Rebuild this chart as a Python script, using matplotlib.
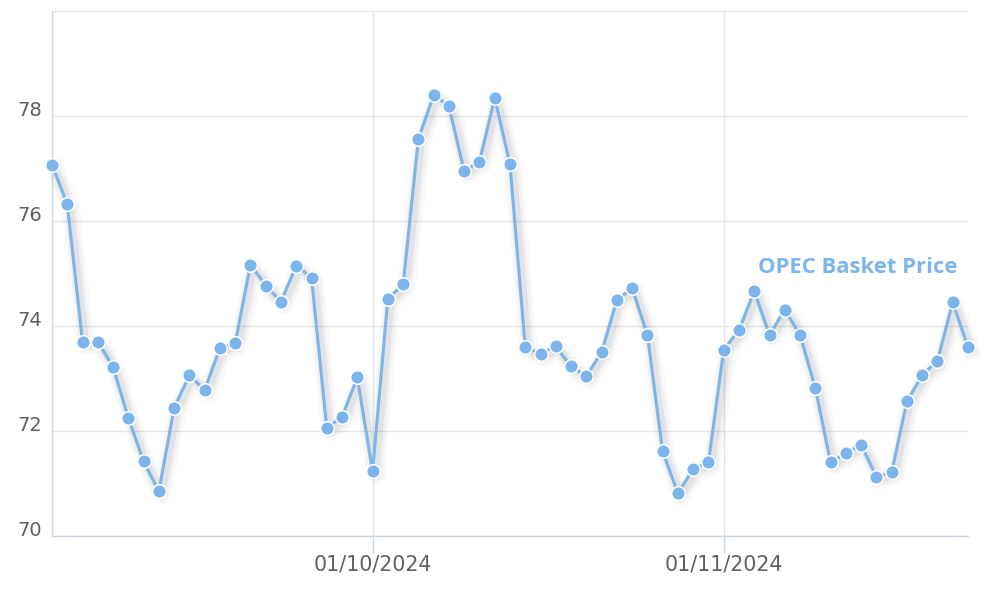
import matplotlib
matplotlib.use("Agg")
import matplotlib.pyplot as plt
import matplotlib.patheffects as pe
import numpy as np
import pandas as pd

# ---- data ----
dates = pd.bdate_range("2024-09-02", "2024-11-25")
prices = [77.07, 76.32, 73.70, 73.70, 73.22, 72.25, 71.42, 70.85, 72.44, 73.06,
          72.78, 73.58, 73.67, 75.17, 74.77, 74.46, 75.15, 74.92, 72.05, 72.27,
          73.02, 71.23, 74.52, 74.79, 77.56, 78.40, 78.18, 76.95, 77.13, 78.34,
          77.08, 73.59, 73.47, 73.61, 73.23, 73.04, 73.50, 74.49, 74.72, 73.83,
          71.61, 70.81, 71.28, 71.40, 73.55, 73.92, 74.66, 73.83, 74.31, 73.83,
          72.82, 71.40, 71.58, 71.74, 71.13, 71.21, 72.57, 73.06, 73.34, 74.45,
          73.60]
series_name = "OPEC Basket Price"
tick_dates = ["2024-10-01", "2024-11-01"]
y_ticks = [70, 72, 74, 76, 78, 80]
y_labels = ["70", "72", "74", "76", "78", ""]

# ---- style ----
color = "#7cb5ec"
grid_color = "#e6e6e6"
axis_color = "#ccd6eb"
label_color = "#606060"

fig = plt.figure(figsize=(10, 6.06), dpi=100)
ax = fig.add_axes([0.052, 0.1155, 0.916, 0.8665])

x = np.arange(len(prices))

shadow = [
    pe.SimpleLineShadow(offset=(2.5, -2.5), shadow_color="black", alpha=0.025, linewidth=13),
    pe.SimpleLineShadow(offset=(2.2, -2.2), shadow_color="black", alpha=0.035, linewidth=9),
    pe.SimpleLineShadow(offset=(2.0, -2.0), shadow_color="black", alpha=0.05, linewidth=5.5),
    pe.Normal(),
]
ax.plot(x, prices, color=color, linewidth=2.2, zorder=3, path_effects=shadow,
        solid_joinstyle="round", clip_on=False)
ax.plot(x, prices, linestyle="none", marker="o", markersize=9.8,
        markerfacecolor=color, markeredgecolor="white", markeredgewidth=1.1,
        zorder=4, clip_on=False)

ax.set_xlim(0, len(prices) - 1)
ax.set_ylim(70, 80)

# x ticks at given dates
tick_idx = [int(np.where(dates == pd.Timestamp(d))[0][0]) for d in tick_dates]
ax.set_xticks(tick_idx)
ax.set_xticklabels([pd.Timestamp(d).strftime("%d/%m/%Y") for d in tick_dates])
ax.set_yticks(y_ticks)
ax.set_yticklabels(y_labels)
for lab in ax.get_yticklabels():
    lab.set_verticalalignment("baseline")

ax.tick_params(axis="x", length=12.2, width=1, color=axis_color, labelsize=14.8,
               labelcolor=label_color, pad=1.0)
ax.tick_params(axis="y", length=0, labelsize=14, labelcolor=label_color, pad=7.2)

ax.grid(True, axis="y", color=grid_color, linewidth=1, zorder=0)
ax.grid(True, axis="x", color="#e0e5ee", linewidth=1, zorder=0)
ax.set_axisbelow(True)
for s in ["top", "right"]:
    ax.spines[s].set_visible(False)
for s in ["left", "bottom"]:
    ax.spines[s].set_color(axis_color)
    ax.spines[s].set_linewidth(1)

ax.text(59.3, 75.12, series_name, color=color, fontsize=15.8, fontweight="bold",
        family=["Open Sans", "DejaVu Sans"], ha="right", va="center", zorder=5)

fig.savefig("out.png", dpi=100, facecolor="white")
